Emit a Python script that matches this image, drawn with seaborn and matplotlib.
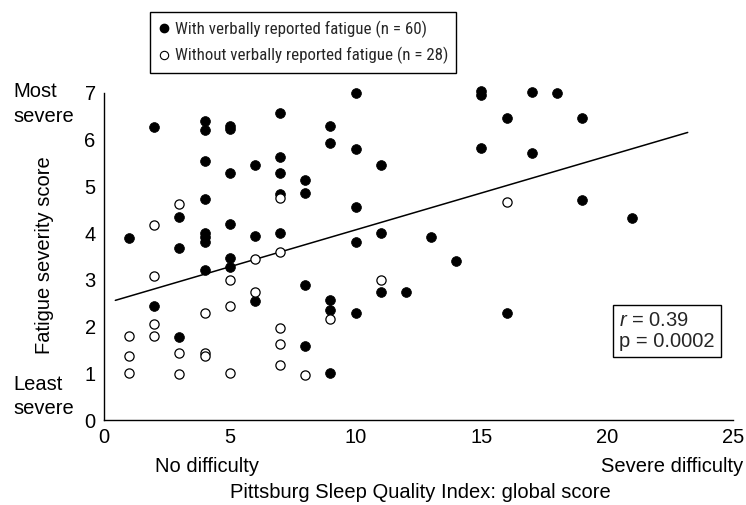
import matplotlib
matplotlib.use("Agg")
import numpy as np
import pandas as pd
import seaborn as sns
import matplotlib.pyplot as plt
from matplotlib import font_manager as fm
from matplotlib.lines import Line2D

# ---------------- data ----------------
fat_x = [1, 2, 2, 3, 3, 3, 4, 4, 4, 4, 4, 4, 4, 4, 5, 5, 5, 5, 5, 5,
         6, 6, 6, 7, 7, 7, 7, 7, 8, 8, 8, 8, 9, 9, 9, 9, 9,
         10, 10, 10, 10, 10, 11, 11, 11, 12, 13, 14, 15, 15, 15,
         16, 16, 17, 17, 18, 19, 19, 21]
fat_y = [3.90, 6.28, 2.43, 4.35, 3.68, 1.78, 6.39, 6.21, 5.55, 4.73, 4.00, 3.92, 3.82, 3.21,
         6.30, 6.24, 5.28, 4.20, 3.46, 3.28, 5.45, 3.93, 2.55,
         6.57, 5.64, 5.28, 4.84, 4.01, 5.14, 4.85, 2.89, 1.59,
         6.30, 5.94, 2.56, 2.36, 1.00, 7.00, 5.81, 4.55, 3.80, 2.28,
         5.46, 4.01, 2.73, 2.73, 3.92, 3.40, 7.05, 6.95, 5.82,
         6.47, 2.28, 7.03, 5.72, 7.01, 6.47, 4.71, 4.32]

nofat_x = [1, 1, 1, 2, 2, 2, 2, 3, 3, 3, 4, 4, 4, 5, 5, 5, 6, 6,
           7, 7, 7, 7, 7, 8, 9, 11, 16]
nofat_y = [1.80, 1.36, 1.00, 4.17, 3.08, 2.06, 1.80, 4.62, 1.44, 0.99, 2.28, 1.44, 1.36,
           3.00, 2.44, 1.00, 3.44, 2.73, 4.75, 3.59, 1.98, 1.62, 1.18, 0.97, 2.16, 3.00, 4.67]

fit_intercept = 2.49
fit_slope = 0.158
fit_range = [0.45, 23.2]

x_ticks = [0, 5, 10, 15, 20, 25]
y_ticks = [0, 1, 2, 3, 4, 5, 6, 7]
legend_labels = ["With verbally reported fatigue (n = 60)",
                 "Without verbally reported fatigue (n = 28)"]
stats_text = "$\\mathit{r}$ = 0.39\np = 0.0002"

# ---------------- style ----------------
sns.set_theme(style="white")
plt.rcParams["font.family"] = ["Liberation Sans", "DejaVu Sans"]
plt.rcParams["mathtext.fontset"] = "custom"
plt.rcParams["mathtext.rm"] = "Liberation Sans"
plt.rcParams["mathtext.it"] = "Liberation Sans:italic"

names = {f.name for f in fm.fontManager.ttflist}
narrow = "Liberation Sans"
for cand in ["Roboto Condensed", "Archivo Narrow", "PT Sans Narrow", "Liberation Sans Narrow"]:
    if cand in names:
        narrow = cand
        break
narrow_size = 12.2 if narrow != "Liberation Sans" else 11.0

FS = 14.5
W, H = 746, 505
fig = plt.figure(figsize=(W / 100, H / 100), dpi=100)
ax = fig.add_axes([104 / W, 1 - 420 / H, (733 - 104) / W, (420 - 93) / H])

df_f = pd.DataFrame({"x": fat_x, "y": fat_y})
df_n = pd.DataFrame({"x": nofat_x, "y": nofat_y})

sns.scatterplot(data=df_f, x="x", y="y", ax=ax, color="black", edgecolor="black",
                s=50, linewidth=0.5, zorder=3, legend=False, clip_on=False)
sns.scatterplot(data=df_n, x="x", y="y", ax=ax, color="white", edgecolor="black",
                s=44, linewidth=0.9, zorder=4, legend=False, clip_on=False)

lx = np.array(fit_range)
sns.lineplot(x=lx, y=fit_intercept + fit_slope * lx, ax=ax, color="black", lw=1.1, zorder=2)

ax.set_xlim(0, 25)
ax.set_ylim(0, 7)
ax.set_xticks(x_ticks)
ax.set_yticks(y_ticks)
ax.set_xlabel("")
ax.set_ylabel("")
for s in ["top", "right"]:
    ax.spines[s].set_visible(False)
for s in ["left", "bottom"]:
    ax.spines[s].set_color("black")
    ax.spines[s].set_linewidth(1.0)
ax.tick_params(direction="in", length=10, width=1.0, colors="black", labelsize=FS, pad=6)
ax.set_facecolor("white")

def ft(px, py, s, **kw):
    fig.text(px / W, 1 - py / H, s, fontsize=FS, color="black", **kw)

ft(13, 92, "Most", ha="left", va="center")
ft(13, 116, "severe", ha="left", va="center")
ft(13, 385, "Least", ha="left", va="center")
ft(13, 409, "severe", ha="left", va="center")
ft(45, 255, "Fatigue severity score", ha="center", va="center", rotation=90)
ft(155, 467, "No difficulty", ha="left", va="center")
ft(743, 467, "Severe difficulty", ha="right", va="center")
ft(420, 493, "Pittsburg Sleep Quality Index: global score", ha="center", va="center")

# stats box
fig.text(619 / W, 1 - 331 / H, stats_text, fontsize=FS, ha="left", va="center",
         linespacing=1.15,
         bbox=dict(boxstyle="square,pad=0.3", fc="white", ec="black", lw=1.0))

handles = [
    Line2D([], [], marker="o", ls="", markerfacecolor="black", markeredgecolor="black", markersize=6),
    Line2D([], [], marker="o", ls="", markerfacecolor="white", markeredgecolor="black",
           markersize=6, markeredgewidth=0.8),
]
leg = fig.legend(handles, legend_labels, loc="upper left",
                 bbox_to_anchor=(150 / W, 1 - 12 / H), frameon=True, fancybox=False,
                 edgecolor="black", framealpha=1, prop={"family": narrow, "size": narrow_size},
                 handlelength=0.6, handletextpad=0.35, borderpad=0.5, labelspacing=0.55,
                 borderaxespad=0)
leg.get_frame().set_linewidth(1.0)

fig.savefig("out.png", dpi=100, facecolor="white")
